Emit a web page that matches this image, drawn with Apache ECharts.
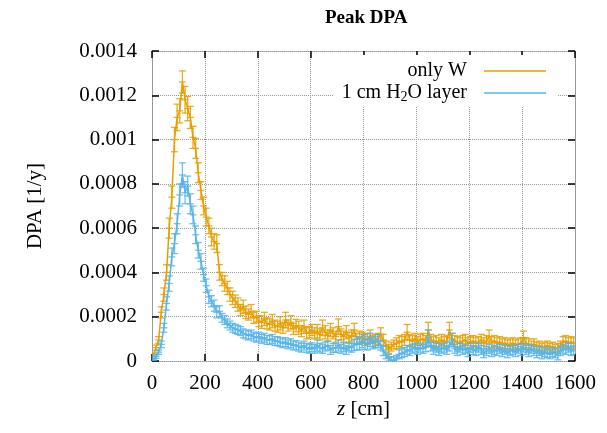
<!DOCTYPE html>
<html>
<head>
<meta charset="utf-8">
<script src="https://cdn.jsdelivr.net/npm/echarts@6/dist/echarts.min.js"></script>
<style>
  html, body { margin: 0; padding: 0; background: #fff; }
  #main { width: 607px; height: 433px; }
</style>
</head>
<body>
<div id="main"></div>
<script>
// bin centres along z [cm]
var zStart = 5, zStep = 10, nBins = 160;

// DPA values in units of 1e-4 per year
var onlyW = [
  0.27, 0.6, 0.95, 2.2, 3.0, 4.0, 6.0, 7.4, 10.0, 11.0,
  11.3, 12.6, 11.8, 11.4, 11.0, 10.1, 9.6, 8.5, 7.7, 7.0,
  6.5, 6.1, 5.6, 5.4, 5.3, 4.0, 3.7, 3.5, 3.3, 3.0,
  2.85, 2.7, 2.55, 2.3, 2.45, 2.2, 2.1, 2.25, 1.95, 2.0,
  1.8, 1.75, 1.9, 1.7, 1.65, 1.8, 1.6, 1.55, 1.7, 1.5,
  1.85, 1.6, 1.75, 1.45, 1.6, 1.5, 1.35, 1.55, 1.25, 1.3,
  1.4, 1.25, 1.35, 1.2, 1.5, 1.3, 1.15, 1.4, 1.25, 1.1,
  1.55, 1.2, 1.1, 1.3, 1.05, 1.15, 1.4, 1.0, 1.1, 1.05,
  0.95, 1.0, 1.1, 0.9, 0.95, 1.0, 1.2, 0.95, 0.7, 0.55,
  0.65, 0.75, 0.8, 0.9, 0.85, 0.95, 1.3, 0.95, 0.9, 1.0,
  0.85, 0.95, 1.0, 0.9, 1.4, 0.95, 0.85, 0.9, 0.8, 0.95,
  0.85, 0.9, 1.4, 1.0, 0.9, 0.85, 0.8, 0.9, 0.95, 0.8,
  0.85, 0.9, 0.8, 0.85, 0.95, 0.8, 0.9, 1.1, 0.85, 0.9,
  0.8, 0.85, 0.75, 0.8, 0.7, 0.75, 0.8, 0.7, 0.75, 0.8,
  1.05, 0.8, 0.75, 0.7, 0.75, 0.65, 0.7, 0.6, 0.65, 0.7,
  0.6, 0.65, 0.55, 0.6, 0.7, 0.85, 0.9, 0.8, 0.85, 0.8
];
var onlyWErr = [
  0.08, 0.12, 0.15, 0.25, 0.3, 0.35, 0.45, 0.5, 0.55, 0.6,
  0.55, 0.5, 0.6, 0.55, 0.5, 0.5, 0.45, 0.45, 0.4, 0.4,
  0.4, 0.35, 0.4, 0.35, 0.4, 0.35, 0.3, 0.35, 0.3, 0.3,
  0.3, 0.28, 0.3, 0.25, 0.3, 0.28, 0.25, 0.3, 0.25, 0.25,
  0.25, 0.28, 0.3, 0.25, 0.25, 0.3, 0.25, 0.25, 0.3, 0.25,
  0.35, 0.25, 0.3, 0.25, 0.28, 0.3, 0.25, 0.3, 0.25, 0.25,
  0.25, 0.25, 0.3, 0.25, 0.35, 0.3, 0.25, 0.3, 0.25, 0.25,
  0.35, 0.25, 0.25, 0.3, 0.25, 0.25, 0.3, 0.25, 0.25, 0.25,
  0.25, 0.25, 0.3, 0.25, 0.25, 0.25, 0.3, 0.25, 0.2, 0.2,
  0.2, 0.2, 0.25, 0.25, 0.25, 0.25, 0.35, 0.25, 0.25, 0.25,
  0.25, 0.25, 0.25, 0.25, 0.35, 0.25, 0.25, 0.25, 0.25, 0.25,
  0.25, 0.25, 0.35, 0.25, 0.25, 0.25, 0.25, 0.25, 0.25, 0.25,
  0.25, 0.25, 0.25, 0.25, 0.25, 0.25, 0.25, 0.3, 0.25, 0.25,
  0.25, 0.25, 0.25, 0.25, 0.25, 0.25, 0.25, 0.25, 0.25, 0.25,
  0.3, 0.25, 0.25, 0.2, 0.25, 0.2, 0.2, 0.2, 0.2, 0.2,
  0.2, 0.2, 0.2, 0.2, 0.2, 0.25, 0.25, 0.25, 0.25, 0.25
];
var water = [
  0.05, 0.2, 0.4, 0.75, 1.5, 2.6, 3.5, 4.7, 5.3, 6.2,
  7.5, 8.4, 7.6, 7.9, 7.1, 6.6, 5.7, 5.0, 4.5, 3.9,
  3.4, 2.9, 2.7, 2.5, 2.2, 2.25, 1.95, 1.85, 1.7, 1.6,
  1.5, 1.45, 1.4, 1.35, 1.25, 1.2, 1.15, 1.2, 1.1, 1.05,
  1.1, 1.0, 1.05, 0.95, 0.95, 1.0, 0.9, 0.9, 0.85, 0.8,
  0.85, 0.75, 0.8, 0.7, 0.72, 0.65, 0.6, 0.7, 0.6, 0.55,
  0.62, 0.55, 0.7, 0.6, 0.55, 0.65, 0.7, 0.5, 0.6, 0.58,
  0.7, 0.55, 0.62, 0.5, 0.65, 0.6, 0.72, 0.8, 0.75, 0.9,
  0.82, 0.75, 0.95, 0.8, 0.85, 0.9, 0.7, 0.45, 0.25, 0.15,
  0.05, 0.02, 0.1, 0.3, 0.35, 0.4, 0.5, 0.45, 0.55, 0.6,
  0.5, 0.6, 0.55, 0.62, 1.05, 0.65, 0.5, 0.6, 0.45, 0.55,
  0.6, 0.5, 0.65, 0.95, 0.55, 0.45, 0.6, 0.5, 0.55, 0.4,
  0.6, 0.5, 0.45, 0.6, 0.5, 0.35, 0.45, 0.55, 0.4, 0.5,
  0.45, 0.55, 0.4, 0.5, 0.35, 0.45, 0.5, 0.4, 0.55, 0.45,
  0.6, 0.5, 0.4, 0.55, 0.45, 0.35, 0.45, 0.3, 0.4, 0.35,
  0.3, 0.4, 0.35, 0.25, 0.45, 0.55, 0.5, 0.6, 0.45, 0.5
];
var waterErr = [
  0.05, 0.08, 0.1, 0.15, 0.2, 0.3, 0.35, 0.4, 0.45, 0.45,
  0.5, 0.55, 0.5, 0.45, 0.45, 0.4, 0.4, 0.35, 0.35, 0.3,
  0.3, 0.3, 0.25, 0.25, 0.25, 0.25, 0.2, 0.2, 0.2, 0.2,
  0.2, 0.2, 0.2, 0.2, 0.2, 0.2, 0.2, 0.2, 0.2, 0.2,
  0.2, 0.2, 0.2, 0.2, 0.2, 0.2, 0.2, 0.2, 0.2, 0.2,
  0.2, 0.2, 0.2, 0.2, 0.2, 0.2, 0.2, 0.2, 0.2, 0.2,
  0.2, 0.2, 0.25, 0.2, 0.2, 0.2, 0.2, 0.2, 0.2, 0.2,
  0.25, 0.2, 0.2, 0.2, 0.2, 0.2, 0.25, 0.3, 0.25, 0.3,
  0.3, 0.25, 0.3, 0.25, 0.25, 0.3, 0.2, 0.2, 0.15, 0.15,
  0.15, 0.15, 0.15, 0.2, 0.2, 0.2, 0.2, 0.2, 0.2, 0.2,
  0.2, 0.2, 0.2, 0.2, 0.35, 0.2, 0.2, 0.2, 0.2, 0.2,
  0.2, 0.2, 0.2, 0.3, 0.2, 0.2, 0.2, 0.2, 0.2, 0.2,
  0.2, 0.2, 0.2, 0.2, 0.2, 0.2, 0.2, 0.2, 0.2, 0.2,
  0.2, 0.2, 0.2, 0.2, 0.2, 0.2, 0.2, 0.2, 0.2, 0.2,
  0.2, 0.2, 0.2, 0.2, 0.2, 0.2, 0.2, 0.2, 0.2, 0.2,
  0.2, 0.2, 0.2, 0.2, 0.2, 0.2, 0.2, 0.2, 0.2, 0.2
];

var seriesNames = ['only W', '1 cm H2O layer'];
var colors = ['#E69F00', '#56B4E9'];
var UNIT = 1e-4;

function pairs(vals) {
  var out = [];
  for (var i = 0; i < vals.length; i++) {
    out.push([zStart + i * zStep, vals[i] * UNIT]);
  }
  return out;
}
function triples(vals, errs) {
  var out = [];
  for (var i = 0; i < vals.length; i++) {
    out.push([zStart + i * zStep, vals[i] * UNIT, errs[i] * UNIT]);
  }
  return out;
}

// gnuplot-like yerrorlines: vertical bar, caps and a "+" at the point
function errorBars(color) {
  return function (params, api) {
    var x = api.value(0), y = api.value(1), e = api.value(2);
    var top = api.coord([x, y + e]);
    var bot = api.coord([x, y - e]);
    var mid = api.coord([x, y]);
    var hw = 3.5;
    var st = { stroke: color, lineWidth: 1.3, opacity: 0.85 };
    return {
      type: 'group',
      children: [
        { type: 'line', shape: { x1: mid[0], y1: top[1], x2: mid[0], y2: bot[1] }, style: st },
        { type: 'line', shape: { x1: mid[0] - hw, y1: top[1], x2: mid[0] + hw, y2: top[1] }, style: st },
        { type: 'line', shape: { x1: mid[0] - hw, y1: bot[1], x2: mid[0] + hw, y2: bot[1] }, style: st },
        { type: 'line', shape: { x1: mid[0] - hw, y1: mid[1], x2: mid[0] + hw, y2: mid[1] }, style: st }
      ]
    };
  };
}

var FONT = '"Liberation Serif", "DejaVu Serif", serif';
var chart = echarts.init(document.getElementById('main'));

function frameLine() {
  return { show: true, onZero: false, lineStyle: { color: '#999', type: 'dotted', width: 1 } };
}
function ticksIn() {
  return { show: true, inside: true, length: 7, lineStyle: { color: '#000', width: 1.5 } };
}
function gridLine() {
  return { show: true, lineStyle: { color: '#999', type: 'dotted', width: 1 } };
}

var option = {
  animation: false,
  backgroundColor: '#fff',
  title: {
    text: 'Peak DPA',
    left: 320,
    top: 4,
    textStyle: { fontFamily: FONT, fontWeight: 'bold', fontSize: 19, color: '#000' }
  },
  legend: {
    orient: 'vertical',
    align: 'right',
    right: 50,
    top: 55,
    icon: 'rect',
    itemWidth: 62,
    itemHeight: 1.6,
    itemGap: 2,
    padding: [6, 11, 2, 8],
    backgroundColor: '#fff',
    data: seriesNames,
    textStyle: {
      fontFamily: FONT, fontSize: 20, color: '#000', padding: [0, 12, 0, 0],
      rich: {
        s: { fontFamily: FONT, fontSize: 14, verticalAlign: 'bottom', padding: [8, 0, 0, 0] }
      }
    },
    formatter: function (name) {
      return name === '1 cm H2O layer' ? '1 cm H{s|2}O layer' : name;
    }
  },
  grid: { left: 152, right: 32, top: 51, bottom: 72 },
  xAxis: [{
    type: 'value', min: 0, max: 1600, interval: 200,
    name: '{i|z} [cm]', nameLocation: 'middle', nameGap: 37,
    nameTextStyle: {
      fontFamily: FONT, fontSize: 21, color: '#000',
      rich: { i: { fontFamily: FONT, fontStyle: 'italic', fontSize: 21, color: '#000' } }
    },
    axisLine: frameLine(), axisTick: ticksIn(), splitLine: gridLine(),
    axisLabel: {
      fontFamily: FONT, fontSize: 21, color: '#000', margin: 12,
      formatter: function (v) { return String(v); }
    }
  }, {
    type: 'value', min: 0, max: 1600, interval: 200, position: 'top',
    axisLine: frameLine(), axisTick: ticksIn(), splitLine: { show: false }, axisLabel: { show: false }
  }],
  yAxis: [{
    type: 'value', min: 0, max: 0.0014, interval: 0.0002,
    name: 'DPA [1/y]', nameLocation: 'middle', nameGap: 106, nameRotate: 90,
    nameTextStyle: { fontFamily: FONT, fontSize: 21, color: '#000' },
    axisLine: frameLine(), axisTick: ticksIn(), splitLine: gridLine(),
    axisLabel: {
      fontFamily: FONT, fontSize: 21, color: '#000', margin: 15,
      formatter: function (v) { return String(parseFloat(v.toFixed(6))); }
    }
  }, {
    type: 'value', min: 0, max: 0.0014, interval: 0.0002, position: 'right',
    axisLine: frameLine(), axisTick: ticksIn(), splitLine: { show: false }, axisLabel: { show: false }
  }],
  series: [
    {
      name: seriesNames[0], type: 'line', data: pairs(onlyW),
      symbol: 'none', color: colors[0], lineStyle: { width: 1.5 }, z: 2
    },
    {
      type: 'custom', data: triples(onlyW, onlyWErr), renderItem: errorBars(colors[0]),
      clip: true, z: 2, silent: true
    },
    {
      name: seriesNames[1], type: 'line', data: pairs(water),
      symbol: 'none', color: colors[1], lineStyle: { width: 1.5 }, z: 3
    },
    {
      type: 'custom', data: triples(water, waterErr), renderItem: errorBars(colors[1]),
      clip: true, z: 3, silent: true
    }
  ]
};
chart.setOption(option);
</script>
</body>
</html>
